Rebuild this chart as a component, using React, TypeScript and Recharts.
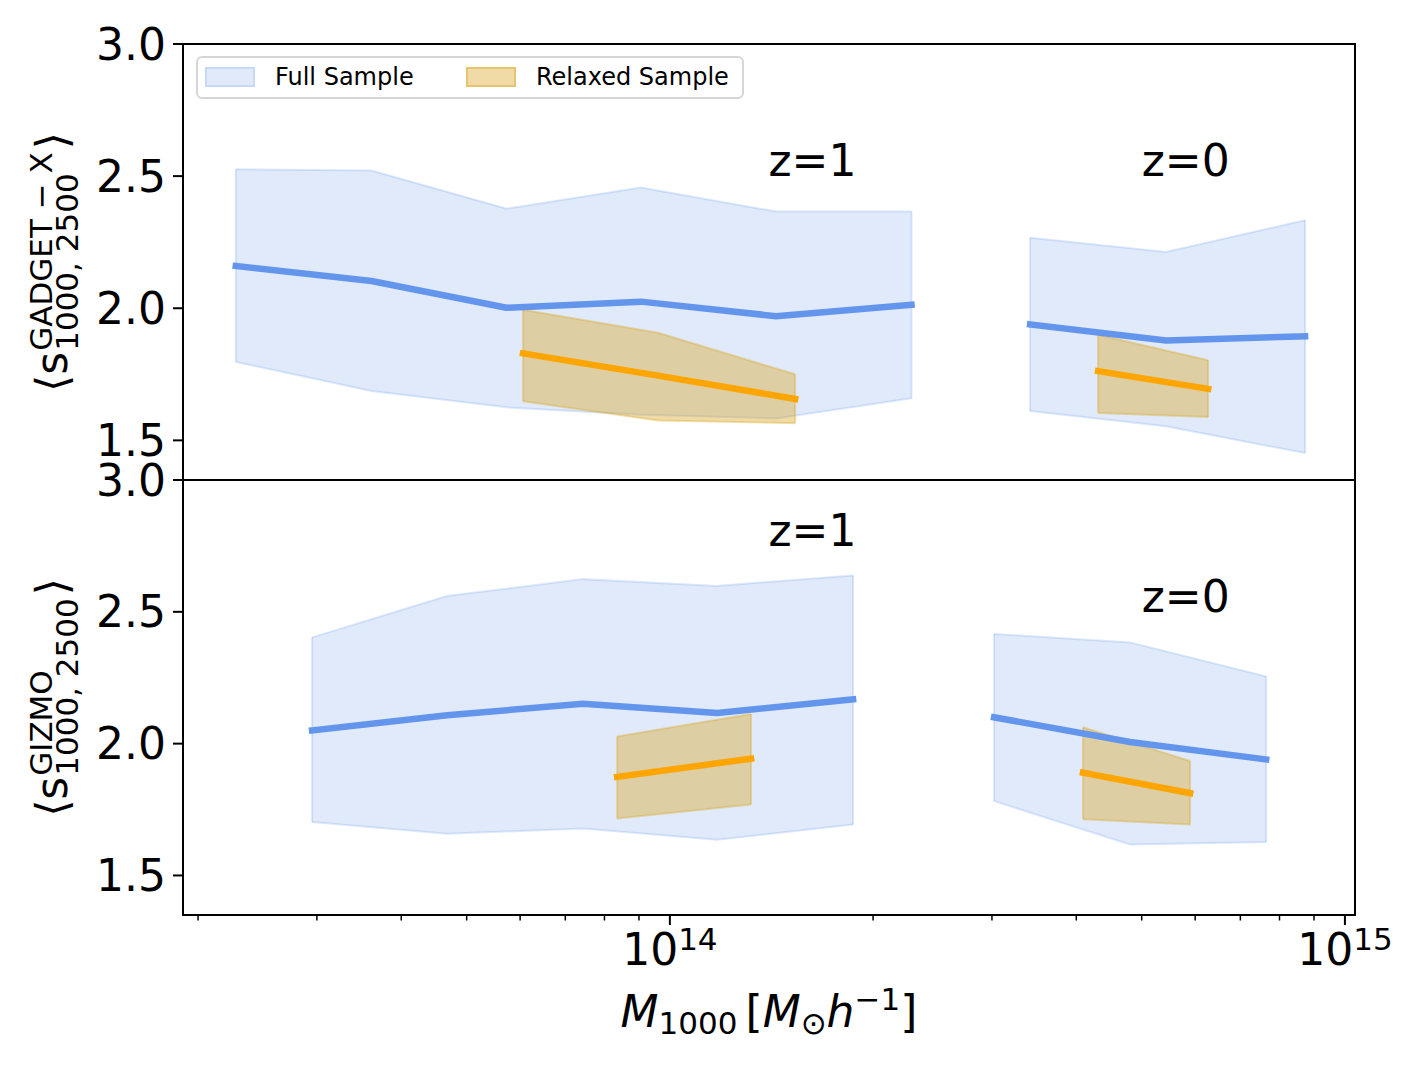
import React from 'react';
import {
  ComposedChart,
  Area,
  Line,
  XAxis,
  YAxis,
  ReferenceArea,
  ReferenceDot,
  ReferenceLine,
} from 'recharts';

const FONT = "'DejaVu Sans', 'Liberation Sans', sans-serif";
const BLUE = '#6495ED';
const GOLD = '#DAA520';
const ORANGE = '#FFA500';

// ---------- axes ----------
const X_DOMAIN = [1.9e13, 1.035e15];
const Y_DOMAIN = [1.35, 3.0];
const Y_TICKS = [1.5, 2.0, 2.5, 3.0];
const X_TICKS = [
  2e13, 3e13, 4e13, 5e13, 6e13, 7e13, 8e13, 9e13, 1e14,
  2e14, 3e14, 4e14, 5e14, 6e14, 7e14, 8e14, 9e14, 1e15,
];
const LEGEND_LABELS = ['Full Sample', 'Relaxed Sample'];

// ---------- GADGET-X panel ----------
const gxFullZ1Mass = [2.275e13, 3.614e13, 5.728e13, 9.057e13, 1.436e14, 2.28e14];
const gxFullZ1Mean = [2.16, 2.103, 2.002, 2.025, 1.97, 2.013];
const gxFullZ1Low = [1.797, 1.687, 1.625, 1.597, 1.583, 1.659];
const gxFullZ1High = [2.526, 2.521, 2.377, 2.457, 2.366, 2.366];

const gxRelZ1Mass = [6.06e13, 9.605e13, 1.533e14];
const gxRelZ1Mean = [1.829, 1.745, 1.657];
const gxRelZ1Low = [1.648, 1.575, 1.565];
const gxRelZ1High = [1.994, 1.907, 1.75];

const gxFullZ0Mass = [3.417e14, 5.433e14, 8.73e14];
const gxFullZ0Mean = [1.939, 1.878, 1.894];
const gxFullZ0Low = [1.611, 1.553, 1.452];
const gxFullZ0High = [2.267, 2.213, 2.333];

const gxRelZ0Mass = [4.309e14, 6.272e14];
const gxRelZ0Mean = [1.762, 1.695];
const gxRelZ0Low = [1.604, 1.588];
const gxRelZ0High = [1.9, 1.803];

// ---------- GIZMO panel ----------
const gzFullZ1Mass = [2.951e13, 4.677e13, 7.43e13, 1.175e14, 1.868e14];
const gzFullZ1Mean = [2.05, 2.108, 2.151, 2.116, 2.168];
const gzFullZ1Low = [1.703, 1.658, 1.678, 1.635, 1.693];
const gzFullZ1High = [2.403, 2.56, 2.624, 2.598, 2.638];

const gzRelZ1Mass = [8.353e13, 1.319e14];
const gzRelZ1Mean = [1.874, 1.943];
const gzRelZ1Low = [1.716, 1.769];
const gzRelZ1High = [2.027, 2.112];

const gzFullZ0Mass = [3.022e14, 4.806e14, 7.644e14];
const gzFullZ0Mean = [2.1, 2.006, 1.94];
const gzFullZ0Low = [1.782, 1.617, 1.627];
const gzFullZ0High = [2.416, 2.384, 2.255];

const gzRelZ0Mass = [4.093e14, 5.897e14];
const gzRelZ0Mean = [1.89, 1.812];
const gzRelZ0Low = [1.713, 1.693];
const gzRelZ0High = [2.062, 1.934];

// ---------- annotations ----------
const gxNoteText = ['z=1', 'z=0'];
const gxNoteMass = [1.4e14, 5e14];
const gxNoteY = [2.5, 2.5];
const gzNoteText = ['z=1', 'z=0'];
const gzNoteMass = [1.4e14, 5e14];
const gzNoteY = [2.75, 2.5];

type Row = { m: number; mean: number; band: [number, number] };

function rows(mass: number[], mean: number[], low: number[], high: number[]): Row[] {
  return mass.map((m, i) => ({ m, mean: mean[i], band: [low[i], high[i]] }));
}

const gadget = {
  full: [
    rows(gxFullZ1Mass, gxFullZ1Mean, gxFullZ1Low, gxFullZ1High),
    rows(gxFullZ0Mass, gxFullZ0Mean, gxFullZ0Low, gxFullZ0High),
  ],
  relaxed: [
    rows(gxRelZ1Mass, gxRelZ1Mean, gxRelZ1Low, gxRelZ1High),
    rows(gxRelZ0Mass, gxRelZ0Mean, gxRelZ0Low, gxRelZ0High),
  ],
  notes: gxNoteText.map((t, i) => ({ t, m: gxNoteMass[i], y: gxNoteY[i] })),
};

const gizmo = {
  full: [
    rows(gzFullZ1Mass, gzFullZ1Mean, gzFullZ1Low, gzFullZ1High),
    rows(gzFullZ0Mass, gzFullZ0Mean, gzFullZ0Low, gzFullZ0High),
  ],
  relaxed: [
    rows(gzRelZ1Mass, gzRelZ1Mean, gzRelZ1Low, gzRelZ1High),
    rows(gzRelZ0Mass, gzRelZ0Mean, gzRelZ0Low, gzRelZ0High),
  ],
  notes: gzNoteText.map((t, i) => ({ t, m: gzNoteMass[i], y: gzNoteY[i] })),
};

// ---------- text measurement ----------
let ctx: CanvasRenderingContext2D | null = null;
function measure(str: string, size: number): number {
  if (typeof document !== 'undefined') {
    if (!ctx) ctx = document.createElement('canvas').getContext('2d');
    if (ctx) {
      ctx.font = `${size}px 'DejaVu Sans'`;
      return ctx.measureText(str).width;
    }
  }
  return str.length * size * 0.62;
}

function YLabel({ vb, sup, sub }: { vb: any; sup: string; sub: string }) {
  const F = 44;
  const S = 31;
  const lead = measure('\u27E8s', F);
  const wSup = measure(sup, S);
  const wSub = measure(sub, S);
  const close = measure('\u27E9', F);
  const scriptStart = lead + 1;
  const closeStart = scriptStart + Math.max(wSup, wSub) + 3;
  const L = closeStart + close;
  const u0 = -L / 2;
  const cx = (vb?.x ?? 0) + 67;
  const cy = (vb?.y ?? 0) + (vb?.height ?? 0) / 2;
  return (
    <g transform={`translate(${cx},${cy}) rotate(-90)`} fontFamily={FONT} fill="#000">
      <text x={u0} y={0} fontSize={F}>{'\u27E8s'}</text>
      <text x={u0 + scriptStart} y={-0.34 * F} fontSize={S}>{sup}</text>
      <text x={u0 + scriptStart} y={0.24 * F} fontSize={S}>{sub}</text>
      <text x={u0 + closeStart} y={0} fontSize={F}>{'\u27E9'}</text>
    </g>
  );
}

function XLabel({ vb }: { vb: any }) {
  const x = (vb?.x ?? 0) + (vb?.width ?? 0) / 2;
  const y = (vb?.y ?? 0) + 112;
  return (
    <text x={x} y={y} textAnchor="middle" fontFamily={FONT} fontSize={44} fill="#000">
      <tspan fontStyle="italic">M</tspan>
      <tspan fontSize={31} dy={7}>1000</tspan>
      <tspan dx={8} dy={-7}>[</tspan>
      <tspan fontStyle="italic">M</tspan>
      <tspan fontSize={31} dy={7}>{'\u2299'}</tspan>
      <tspan fontStyle="italic" dy={-7}>h</tspan>
      <tspan fontSize={31} dy={-17}>{'\u22121'}</tspan>
      <tspan dy={17}>]</tspan>
    </text>
  );
}

function MassTick(props: any) {
  const { x, y, payload } = props;
  const v = payload.value as number;
  const e = Math.log10(v);
  const major = Math.abs(e - Math.round(e)) < 1e-6;
  return (
    <g>
      <line
        x1={x}
        x2={x}
        y1={y}
        y2={y + (major ? 10 : 5.5)}
        stroke="#000"
        strokeWidth={major ? 2 : 1.5}
      />
      {major && (
        <text x={x} y={y + 50} textAnchor="middle" fontFamily={FONT} fontSize={44} fill="#000">
          <tspan>10</tspan>
          <tspan fontSize={31} dy={-15}>{String(Math.round(e))}</tspan>
        </text>
      )}
    </g>
  );
}

function Panel({
  data,
  height,
  marginTop,
  showX,
  sup,
  sub,
}: {
  data: typeof gadget;
  height: number;
  marginTop: number;
  showX: boolean;
  sup: string;
  sub: string;
}) {
  return (
    <ComposedChart
      width={1420}
      height={height}
      margin={{ top: marginTop, right: 65, bottom: 0, left: 0 }}
    >
      {showX ? (
        <XAxis
          dataKey="m"
          type="number"
          scale="log"
          domain={X_DOMAIN}
          allowDataOverflow
          ticks={X_TICKS}
          interval={0}
          tick={<MassTick />}
          tickLine={false}
          axisLine={false}
          tickSize={0}
          tickMargin={0}
          height={150}
          label={{ content: (p: any) => <XLabel vb={p.viewBox} /> }}
        />
      ) : (
        <XAxis
          dataKey="m"
          type="number"
          scale="log"
          domain={X_DOMAIN}
          allowDataOverflow
          hide
        />
      )}
      <YAxis
        type="number"
        domain={Y_DOMAIN}
        allowDataOverflow
        ticks={Y_TICKS}
        interval={0}
        width={183}
        axisLine={false}
        tickLine={{ stroke: '#000', strokeWidth: 2 }}
        tickSize={10}
        tickMargin={7}
        tick={{ fontSize: 44, fill: '#000', fontFamily: FONT }}
        tickFormatter={(v: number) => v.toFixed(1)}
        label={{ content: (p: any) => <YLabel vb={p.viewBox} sup={sup} sub={sub} /> }}
      />

      {data.full.map((r, i) => (
        <Area
          key={`fa${i}`}
          data={r}
          dataKey="band"
          type="linear"
          fill={BLUE}
          fillOpacity={0.2}
          stroke={BLUE}
          strokeOpacity={0.22}
          strokeWidth={2}
          dot={false}
          activeDot={false}
          isAnimationActive={false}
        />
      ))}
      {data.full.map((r, i) =>
        [r[0], r[r.length - 1]].map((p, j) => (
          <ReferenceLine
            key={`fe${i}-${j}`}
            segment={[
              { x: p.m, y: p.band[0] },
              { x: p.m, y: p.band[1] },
            ]}
            stroke={BLUE}
            strokeOpacity={0.22}
            strokeWidth={2}
          />
        ))
      )}
      {data.relaxed.map((r, i) => (
        <Area
          key={`ra${i}`}
          data={r}
          dataKey="band"
          type="linear"
          fill={GOLD}
          fillOpacity={0.4}
          stroke={GOLD}
          strokeOpacity={0.35}
          strokeWidth={2}
          dot={false}
          activeDot={false}
          isAnimationActive={false}
        />
      ))}
      {data.relaxed.map((r, i) =>
        [r[0], r[r.length - 1]].map((p, j) => (
          <ReferenceLine
            key={`re${i}-${j}`}
            segment={[
              { x: p.m, y: p.band[0] },
              { x: p.m, y: p.band[1] },
            ]}
            stroke={GOLD}
            strokeOpacity={0.35}
            strokeWidth={2}
          />
        ))
      )}
      {data.full.map((r, i) => (
        <Line
          key={`fl${i}`}
          data={r}
          dataKey="mean"
          type="linear"
          stroke={BLUE}
          strokeWidth={6.5}
          strokeLinecap="square"
          strokeLinejoin="round"
          dot={false}
          activeDot={false}
          isAnimationActive={false}
        />
      ))}
      {data.relaxed.map((r, i) => (
        <Line
          key={`rl${i}`}
          data={r}
          dataKey="mean"
          type="linear"
          stroke={ORANGE}
          strokeWidth={6.5}
          strokeLinecap="square"
          strokeLinejoin="round"
          dot={false}
          activeDot={false}
          isAnimationActive={false}
        />
      ))}

      {data.notes.map((n, i) => (
        <ReferenceDot
          key={`n${i}`}
          x={n.m}
          y={n.y}
          r={0}
          fill="none"
          stroke="none"
          label={{
            content: (p: any) => (
              <text
                x={p.viewBox?.x}
                y={p.viewBox?.y}
                fontFamily={FONT}
                fontSize={44}
                fill="#000"
              >
                {n.t}
              </text>
            ),
          }}
        />
      ))}

      <ReferenceArea
        x1={X_DOMAIN[0]}
        x2={X_DOMAIN[1]}
        y1={Y_DOMAIN[0]}
        y2={Y_DOMAIN[1]}
        fill="none"
        fillOpacity={0}
        stroke="#000"
        strokeWidth={2}
        ifOverflow="visible"
      />
    </ComposedChart>
  );
}

function LegendBox() {
  const sw = (bg: string): React.CSSProperties => ({
    position: 'absolute',
    top: 9,
    width: 50,
    height: 20,
    boxSizing: 'border-box',
    background: bg,
    border: `2px solid ${bg}`,
  });
  const txt = (left: number): React.CSSProperties => ({
    position: 'absolute',
    left,
    top: 0,
    lineHeight: '39px',
    fontSize: 24,
    fontFamily: FONT,
    color: '#000',
    whiteSpace: 'nowrap',
  });
  return (
    <div
      style={{
        position: 'absolute',
        left: 196,
        top: 56,
        width: 548,
        height: 43,
        boxSizing: 'border-box',
        border: '2px solid #d6d6d6',
        borderRadius: 6,
        background: 'rgba(255,255,255,0.8)',
      }}
    >
      <div style={{ ...sw('rgba(100,149,237,0.2)'), left: 7 }} />
      <div style={txt(77)}>{LEGEND_LABELS[0]}</div>
      <div style={{ ...sw('rgba(218,165,32,0.4)'), left: 268 }} />
      <div style={txt(338)}>{LEGEND_LABELS[1]}</div>
    </div>
  );
}

export default function App() {
  return (
    <div
      style={{
        position: 'absolute',
        left: 0,
        top: 0,
        width: 1420,
        height: 1065,
        background: '#fff',
        overflow: 'hidden',
      }}
    >
      <div style={{ position: 'absolute', left: 0, top: 0 }}>
        <Panel
          data={gadget}
          height={480}
          marginTop={44}
          showX={false}
          sup={'GADGET \u2212 X'}
          sub={'1000, 2500'}
        />
      </div>
      <div style={{ position: 'absolute', left: 0, top: 440 }}>
        <Panel
          data={gizmo}
          height={625}
          marginTop={40}
          showX={true}
          sup={'GIZMO'}
          sub={'1000, 2500'}
        />
      </div>
      <LegendBox />
    </div>
  );
}
